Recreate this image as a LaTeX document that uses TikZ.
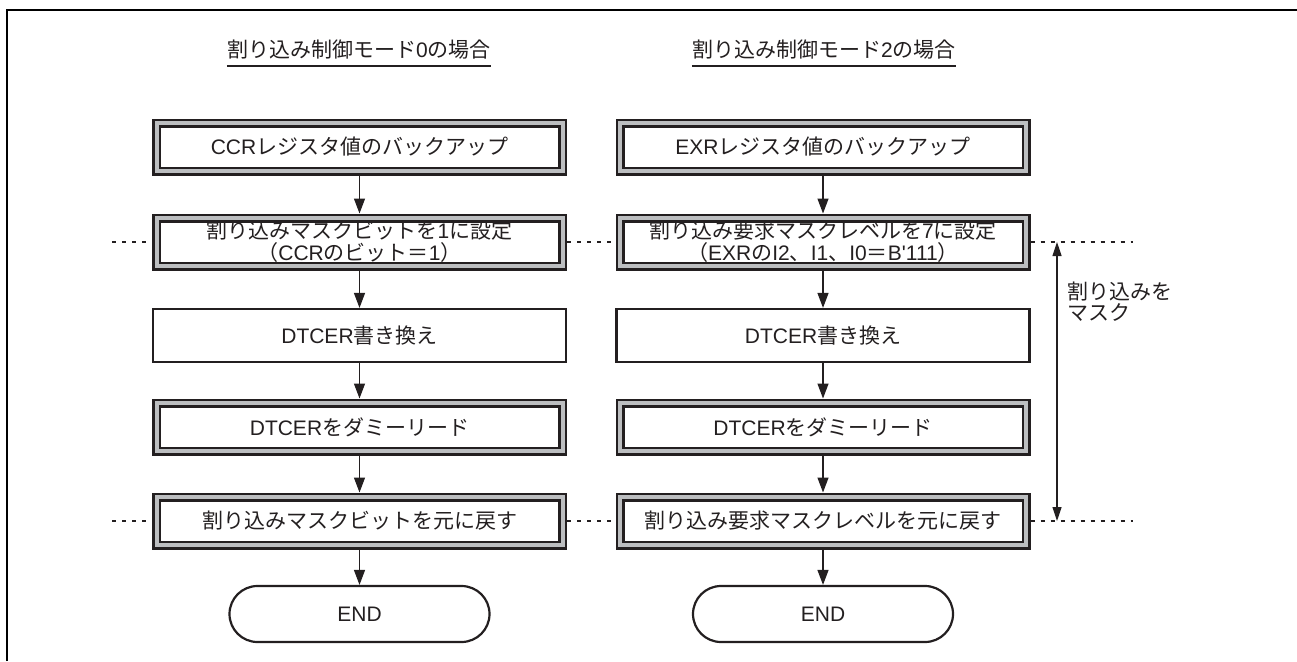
\documentclass[tikz,border=0pt]{standalone}
\usepackage{fontspec}
\setmainfont{Noto Sans CJK JP}
\newfontfamily\lat{Liberation Sans}
\usetikzlibrary{arrows.meta,shapes.misc}
\definecolor{ink}{RGB}{35,31,32}
\definecolor{midgray}{RGB}{188,190,192}
\tikzset{
 txt/.style={font=\fontsize{21}{22}\selectfont, text=ink},
 dbox/.style={txt, draw=ink, line width=2.5pt, double=midgray, double distance=4pt,
   minimum width=406pt, minimum height=48pt, inner sep=0pt, outer sep=4.5pt, align=center},
 pbox/.style={txt, draw=ink, line width=2.2pt, minimum width=413pt, minimum height=53pt,
   inner sep=0pt, outer sep=1.1pt},
 endbox/.style={txt, draw=ink, line width=2.2pt, rounded rectangle, minimum width=260pt,
   minimum height=56pt, inner sep=0pt, outer sep=1.1pt},
 flow/.style={draw=ink, line width=1.3pt, -{Triangle[length=15pt,width=11pt]}},
 sepline/.style={draw=ink, line width=2.5pt, dash pattern=on 4pt off 6pt},
 maskarrow/.style={draw=ink, line width=1.2pt, {Triangle[length=14pt,width=9pt]}-{Triangle[length=14pt,width=9pt]}},
 titlenode/.style={txt, inner sep=0pt, anchor=base},
 uline/.style={draw=ink, line width=1.5pt},
 frameline/.style={draw=black, line width=2.5pt},
}
\begin{document}
\begin{tikzpicture}[x=1pt,y=-1pt]
\useasboundingbox (0,0) rectangle (1297,661);
\draw[frameline] (7,661) -- (7,10) -- (1297,10);

% titles
\node[titlenode] (t1) at (359,58) {割り込み制御モード{\lat 0}の場合};
\node[titlenode] (t2) at (824,58) {割り込み制御モード{\lat 2}の場合};
\draw[uline] ([yshift=-8pt]t1.base west) -- ([yshift=-8pt]t1.base east);
\draw[uline] ([yshift=-8pt]t2.base west) -- ([yshift=-8pt]t2.base east);

% left column
\node[dbox] (l1) at (359.5,147) {{\lat CCR}レジスタ値のバックアップ};
\node[dbox] (l2) at (359.5,242) {割り込みマスクビットを{\lat 1}に設定\\（{\lat CCR}のビット＝{\lat 1}）};
\node[pbox] (l3) at (359.5,335.5) {{\lat DTCER}書き換え};
\node[dbox] (l4) at (359.5,427) {{\lat DTCER}をダミーリード};
\node[dbox] (l5) at (359.5,521) {割り込みマスクビットを元に戻す};
\node[endbox] (l6) at (359.5,614) {{\lat END}};

% right column
\node[dbox] (r1) at (823,147) {{\lat EXR}レジスタ値のバックアップ};
\node[dbox] (r2) at (823,242) {割り込み要求マスクレベルを{\lat 7}に設定\\（{\lat EXR}の{\lat I2}、{\lat I1}、{\lat I0}＝{\lat B'111}）};
\node[pbox] (r3) at (823,335.5) {{\lat DTCER}書き換え};
\node[dbox] (r4) at (823,427) {{\lat DTCER}をダミーリード};
\node[dbox] (r5) at (823,521) {割り込み要求マスクレベルを元に戻す};
\node[endbox] (r6) at (823,614) {{\lat END}};

% flow arrows
\foreach \c in {l,r}{
  \draw[flow] (\c1) -- (\c2);
  \draw[flow] (\c2) -- (\c3);
  \draw[flow] (\c3) -- (\c4);
  \draw[flow] (\c4) -- (\c5);
  \draw[flow] (\c5) -- (\c6);
}

% dashed separators
\coordinate (dl1) at (112,242);
\coordinate (dr1) at (1133,242);
\coordinate (dl2) at (112,521);
\coordinate (dr2) at (1133,521);
\draw[sepline] (dl1) -- (l2.west);
\draw[sepline] (l2.east) -- (r2.west);
\draw[sepline] (r2.east) -- (dr1);
\draw[sepline] (dl2) -- (l5.west);
\draw[sepline] (l5.east) -- (r5.west);
\draw[sepline] (r5.east) -- (dr2);

% mask arrow
\coordinate (mt) at (1057,242);
\coordinate (mb) at (1057,521);
\draw[maskarrow] (mb) -- (mt);
\node[txt, align=left, anchor=west, inner sep=0pt, font=\fontsize{21}{21}\selectfont] (mk) at (1067,302) {割り込みを\\マスク};
\end{tikzpicture}
\end{document}
